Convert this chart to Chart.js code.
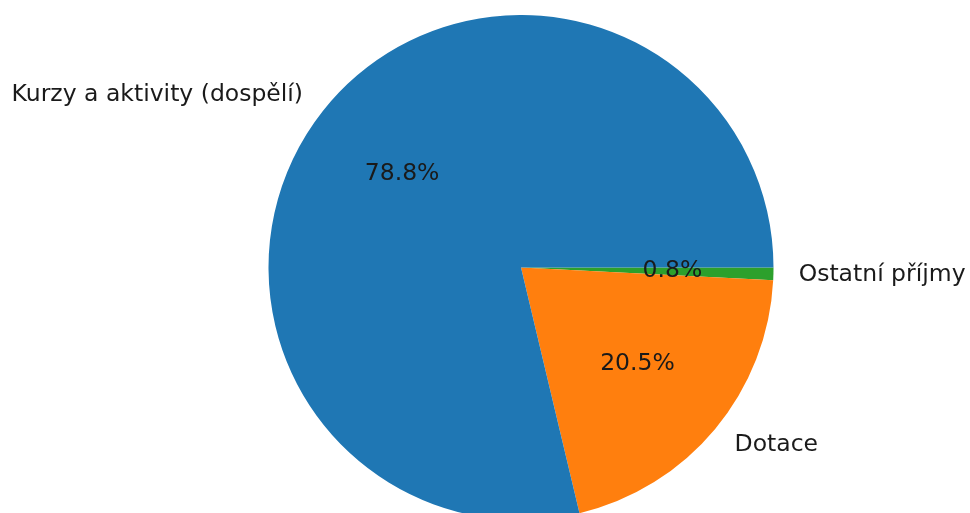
<!DOCTYPE html>
<html>
<head>
<meta charset="utf-8">
<script src="https://cdn.jsdelivr.net/npm/chart.js@4"></script>
<style>
  html, body { margin: 0; padding: 0; background: #fff; overflow: hidden; width: 970px; height: 513px; }
  #wrap { position: absolute; left: 0; top: 15px; width: 1042px; height: 505px; }
</style>
</head>
<body>
<div id="wrap"><canvas id="c"></canvas></div>
<script>
// Data (matplotlib order, counter-clockwise from 3 o'clock)
const categories = ["Kurzy a aktivity (dospělí)", "Dotace", "Ostatní příjmy"];
const shares = [78.8, 20.5, 0.8];
const colors = ["#1f77b4", "#ff7f0e", "#2ca02c"];

// Chart.js draws clockwise, so reverse order and start at 3 o'clock
const labelsCJ = categories.slice().reverse();
const dataCJ = shares.slice().reverse();
const colorsCJ = colors.slice().reverse();

const FONT = '23.5px "DejaVu Sans"';
const TEXT = '#1a1a1a';

const labelPlugin = {
  id: 'pieLabels',
  afterDatasetsDraw(chart) {
    const ctx = chart.ctx;
    const meta = chart.getDatasetMeta(0);
    ctx.save();
    ctx.font = FONT;
    ctx.fillStyle = TEXT;
    ctx.textBaseline = 'middle';
    meta.data.forEach((arc, i) => {
      const p = arc.getProps(['x', 'y', 'startAngle', 'endAngle', 'outerRadius'], true);
      const mid = (p.startAngle + p.endAngle) / 2;
      const c = Math.cos(mid), s = Math.sin(mid);
      // percentage
      ctx.textAlign = 'center';
      ctx.fillText(dataCJ[i].toFixed(1) + '%', p.x + c * p.outerRadius * 0.6, p.y + s * p.outerRadius * 0.6);
      // category label
      ctx.textAlign = c >= 0 ? 'left' : 'right';
      ctx.fillText(labelsCJ[i], p.x + c * p.outerRadius * 1.1, p.y + s * p.outerRadius * 1.1);
    });
    ctx.restore();
  }
};

new Chart(document.getElementById('c'), {
  type: 'pie',
  data: {
    labels: labelsCJ,
    datasets: [{
      data: dataCJ,
      backgroundColor: colorsCJ,
      borderWidth: 0
    }]
  },
  options: {
    responsive: true,
    maintainAspectRatio: false,
    animation: false,
    rotation: 90,
    layout: { padding: 0 },
    plugins: {
      legend: { display: false },
      tooltip: { enabled: false }
    }
  },
  plugins: [labelPlugin]
});
</script>
</body>
</html>
